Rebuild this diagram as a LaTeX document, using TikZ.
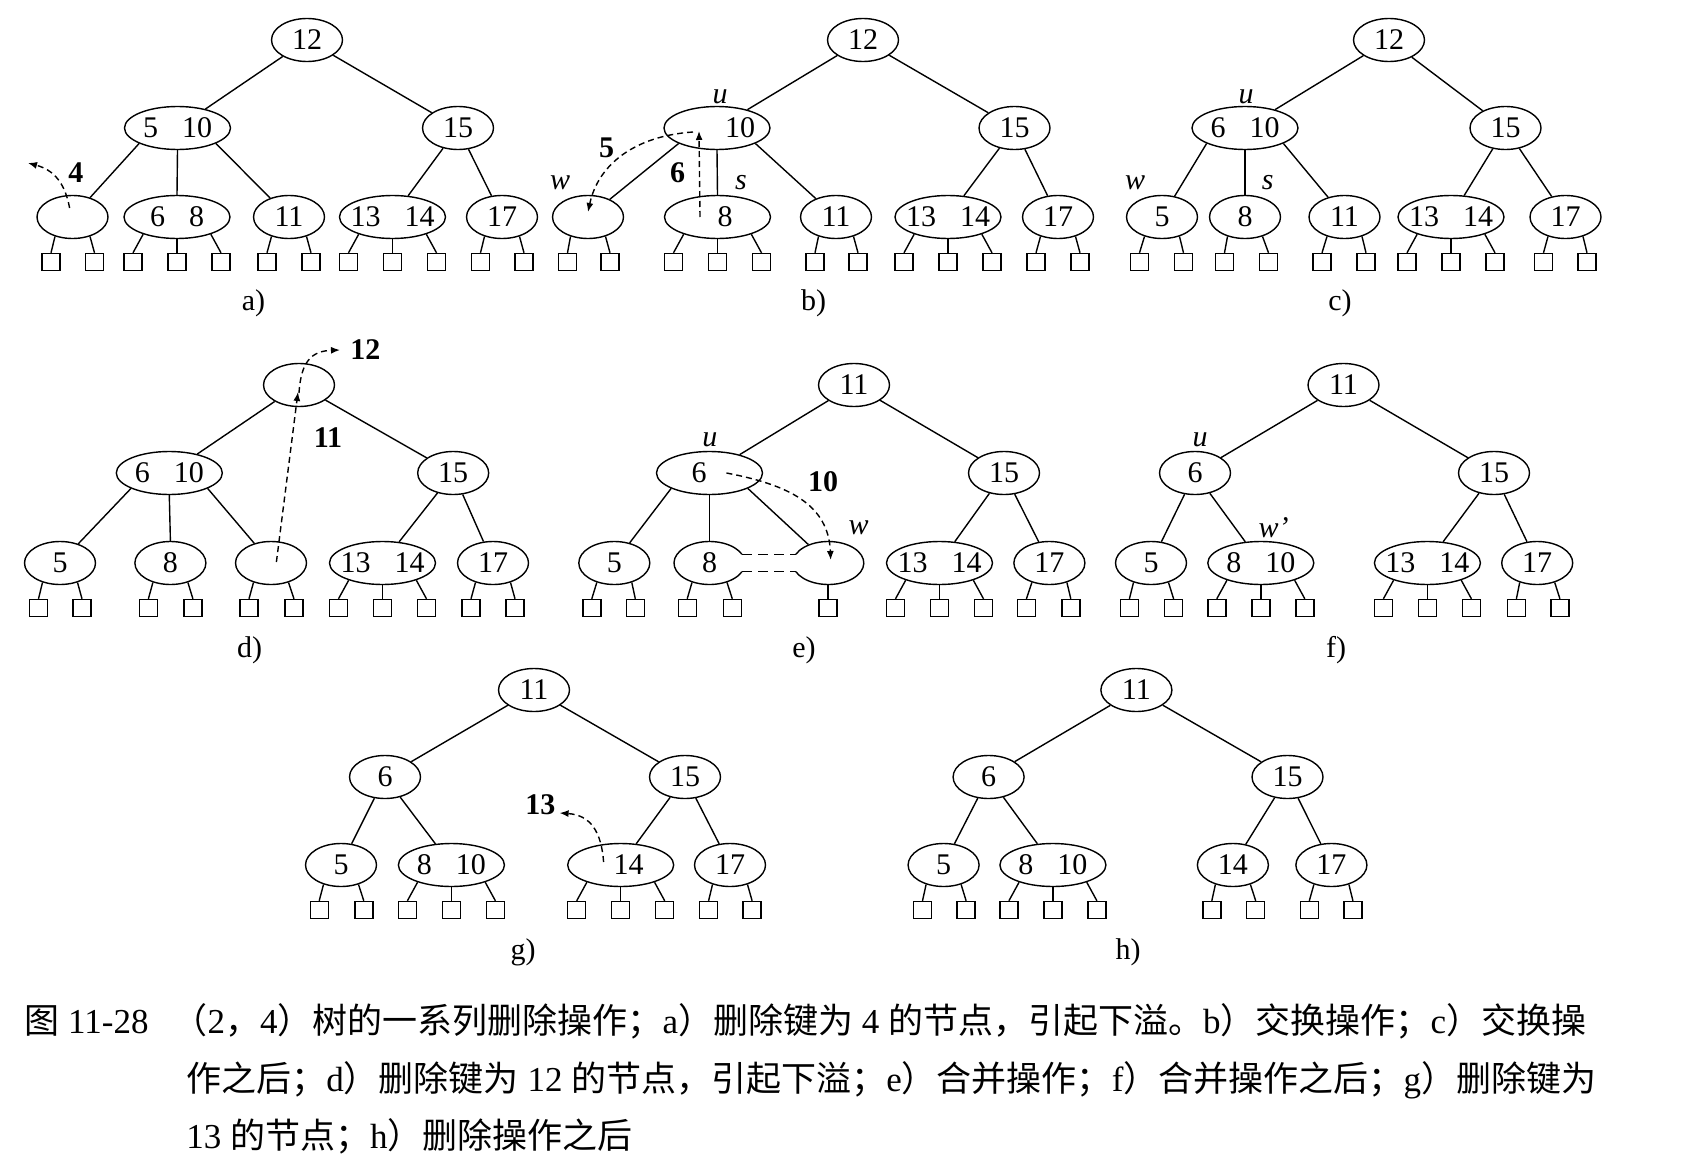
\documentclass[tikz,border=0pt]{standalone}
\usepackage{fontspec}
\setmainfont{Liberation Serif}
\newfontfamily\cjk{Noto Sans CJK SC}
\usetikzlibrary{shapes.geometric,arrows.meta,calc}
\newcommand\KT[2]{\makebox[0pt]{#1\hspace{12pt}#2}}
\newcommand\KO[2]{\makebox[0pt]{\hspace*{#1pt}#2}}
\newcommand\sqtwo[3]{%
  \node[sq] (#1-1) at ($(#1)+(#2,45)$) {};
  \node[sq] (#1-2) at ($(#1)+(#3,45)$) {};
  \draw[tline] (#1.228) -- (#1-1.north);
  \draw[tline] (#1.312) -- (#1-2.north);}
\newcommand\sqthree[1]{%
  \node[sq] (#1-1) at ($(#1)+(-44,45)$) {};
  \node[sq] (#1-2) at ($(#1)+(0,45)$) {};
  \node[sq] (#1-3) at ($(#1)+(44,45)$) {};
  \draw[tline] (#1.207) -- (#1-1.north);
  \draw[tline] (#1.south) -- (#1-2.north);
  \draw[tline] (#1.333) -- (#1-3.north);}
\tikzset{
  every node/.style={font=\fontsize{15}{17}\selectfont},
  kone/.style={ellipse,draw,line width=0.7pt,minimum width=35.5pt,minimum height=21.5pt,inner sep=0pt},
  ktwo/.style={kone,minimum width=53pt},
  ghost/.style={kone,draw=none},
  sq/.style={rectangle,draw,line width=0.7pt,minimum width=9pt,minimum height=8.5pt,inner sep=0pt},
  tline/.style={line width=0.7pt},
  dsh/.style={line width=0.7pt,dash pattern=on 3pt off 2pt},
  arr/.style={dsh,-{Latex[length=4.5pt,width=3.5pt]}},
  mrg/.style={line width=0.7pt,dash pattern=on 5pt off 3pt},
  lab/.style={font=\fontsize{15}{17}\selectfont\itshape,inner sep=0pt},
  blab/.style={font=\fontsize{15}{17}\selectfont\bfseries,inner sep=0pt},
  sublab/.style={inner sep=0pt},
  capline/.style={anchor=west,inner sep=0pt,font=\fontsize{17.5}{20}\selectfont},
}
\begin{document}
\begin{tikzpicture}[x=0.5pt,y=-0.5pt]
\useasboundingbox[fill=white] (0,0) rectangle (1692,1172);
% ---------------- a ----------------
\node[kone] (a0) at (307,40) {12};
\node[ktwo] (a1) at (177.5,128) {\KT{5}{10}};
\node[kone] (a2) at (458,128) {15};
\node[kone] (a3) at (72.5,217) {};
\node[ktwo] (a4) at (177,217) {\KT{6}{8}};
\node[kone] (a5) at (289,217) {11};
\node[ktwo] (a6) at (392.5,217) {\KT{13}{14}};
\node[kone] (a7) at (502,217) {17};
\draw[tline] (a0) -- (a1); \draw[tline] (a0) -- (a2);
\draw[tline] (a1.202) -- (a3); \draw[tline] (a1.south) -- (a4.north); \draw[tline] (a1.338) -- (a5);
\draw[tline] (a2) -- (a6); \draw[tline] (a2) -- (a7);
\sqtwo{a3}{-21.5}{22} \sqthree{a4} \sqtwo{a5}{-22}{22} \sqthree{a6} \sqtwo{a7}{-21.5}{22}
\node[sublab] (acap) at (253.5,303) {a)};
\node[blab] (a-l4) at (76,173) {4};
\coordinate (a-s) at (69.6,208); \coordinate (a-e) at (28,163);
\draw[arr] (a-s) .. controls (65,183) and (54,170) .. (a-e);
% ---------------- b ----------------
\node[kone] (b0) at (863,40) {12};
\node[ktwo] (b1) at (717,128) {\KO{23}{10}};
\node[kone] (b2) at (1014.5,128) {15};
\node[kone] (b3) at (588,217) {};
\node[ktwo] (b4) at (717.5,217) {\KO{7.5}{8}};
\node[kone] (b5) at (836,217) {11};
\node[ktwo] (b6) at (948,217) {\KT{13}{14}};
\node[kone] (b7) at (1058,217) {17};
\draw[tline] (b0) -- (b1); \draw[tline] (b0) -- (b2);
\draw[tline] (b1.202) -- (b3); \draw[tline] (b1.south) -- (b4.north); \draw[tline] (b1.338) -- (b5);
\draw[tline] (b2) -- (b6); \draw[tline] (b2) -- (b7);
\sqtwo{b3}{-20.5}{22} \sqthree{b4} \sqtwo{b5}{-21}{22} \sqthree{b6} \sqtwo{b7}{-22}{22}
\node[sublab] (bcap) at (813.7,303) {b)};
\node[lab] (b-u) at (720,97) {u};
\node[lab] (b-w) at (560,183) {w};
\node[lab] (b-sl) at (741,183) {s};
\node[blab] (b-l5) at (606.6,148) {5};
\node[blab] (b-l6) at (677.6,173) {6};
\coordinate (b-s5) at (693,132); \coordinate (b-e5) at (588,212);
\draw[arr] (b-s5) .. controls (634,136) and (598,165) .. (b-e5);
\coordinate (b-s6) at (700,217); \coordinate (b-e6) at (699,131);
\draw[arr] (b-s6) -- (b-e6);
% ---------------- c ----------------
\node[kone] (c0) at (1389,40) {12};
\node[ktwo] (c1) at (1245,128) {\KT{6}{10}};
\node[kone] (c2) at (1505.5,128) {15};
\node[kone] (c3) at (1162,217) {5};
\node[kone] (c4) at (1245,217) {8};
\node[kone] (c5) at (1344.5,217) {11};
\node[ktwo] (c6) at (1451,217) {\KT{13}{14}};
\node[kone] (c7) at (1565.5,217) {17};
\draw[tline] (c0) -- (c1); \draw[tline] (c0) -- (c2);
\draw[tline] (c1.202) -- (c3); \draw[tline] (c1.south) -- (c4.north); \draw[tline] (c1.338) -- (c5);
\draw[tline] (c2) -- (c6); \draw[tline] (c2) -- (c7);
\sqtwo{c3}{-22.5}{21.5} \sqtwo{c4}{-20.5}{23.5} \sqtwo{c5}{-22.5}{21.5} \sqthree{c6} \sqtwo{c7}{-22}{21.5}
\node[sublab] (ccap) at (1340,303) {c)};
\node[lab] (c-u) at (1246,97) {u};
\node[lab] (c-w) at (1135,183) {w};
\node[lab] (c-sl) at (1267.6,183) {s};
% ---------------- d ----------------
\node[kone] (d0) at (299,385) {};
\node[ktwo] (d1) at (169.3,473) {\KT{6}{10}};
\node[kone] (d2) at (453.2,473) {15};
\node[kone] (d3) at (60,563) {5};
\node[kone] (d4) at (170.4,563) {8};
\node[kone] (d5) at (271,563) {};
\node[ktwo] (d6) at (382.5,563) {\KT{13}{14}};
\node[kone] (d7) at (493,563) {17};
\draw[tline] (d0) -- (d1); \draw[tline] (d0) -- (d2);
\draw[tline] (d1.202) -- (d3); \draw[tline] (d1.south) -- (d4.north); \draw[tline] (d1.338) -- (d5);
\draw[tline] (d2) -- (d6); \draw[tline] (d2) -- (d7);
\sqtwo{d3}{-21.5}{22} \sqtwo{d4}{-22}{22.5} \sqtwo{d5}{-22}{23} \sqthree{d6} \sqtwo{d7}{-22}{22}
\node[sublab] (dcap) at (249.6,650) {d)};
\node[blab] (d-l12) at (365.4,350) {12};
\node[blab] (d-l11) at (328,438) {11};
\coordinate (d-s1) at (276.4,562); \coordinate (d-e1) at (298,392);
\draw[arr] (d-s1) -- (d-e1);
\coordinate (d-s2) at (299,393); \coordinate (d-e2) at (340,350);
\draw[arr] (d-s2) .. controls (301,362) and (311,351) .. (d-e2);
% ---------------- e ----------------
\node[kone] (e0) at (854,385) {11};
\node[ktwo] (e1) at (709.5,473) {\KO{-10.5}{6}};
\node[kone] (e2) at (1004,473) {15};
\node[kone] (e3) at (614.3,563) {5};
\node[ghost] (e4) at (709.5,563) {8};
\node[ghost] (e5) at (828.3,563) {};
\node[ktwo] (e6) at (939.5,563) {\KT{13}{14}};
\node[kone] (e7) at (1049.4,563) {17};
\draw[tline] (e4.center) ++(24:35.5 and 21.5) arc[start angle=24,end angle=336,x radius=35.5,y radius=21.5];
\draw[tline] (e5.center) ++(-156:35.5 and 21.5) arc[start angle=-156,end angle=156,x radius=35.5,y radius=21.5];
\coordinate (e-m1a) at (742,554.3); \coordinate (e-m1b) at (796,554.3);
\coordinate (e-m2a) at (742,571.7); \coordinate (e-m2b) at (796,571.7);
\draw[mrg] (e-m1a) -- (e-m1b); \draw[mrg] (e-m2a) -- (e-m2b);
\draw[tline] (e0) -- (e1); \draw[tline] (e0) -- (e2);
\draw[tline] (e1.202) -- (e3); \draw[tline] (e1.south) -- (e4.north); \draw[tline] (e1.338) -- (e5);
\draw[tline] (e2) -- (e6); \draw[tline] (e2) -- (e7);
\sqtwo{e3}{-22.5}{21} \sqtwo{e4}{-22.3}{22.8}
\node[sq] (e5-1) at ($(e5)+(-0.5,45)$) {};
\draw[tline] (e5-1.north |- e5.south) -- (e5-1.north);
\sqthree{e6} \sqtwo{e7}{-23}{21.4}
\node[sublab] (ecap) at (804,650) {e)};
\node[lab] (e-u) at (709.8,440) {u};
\node[lab] (e-w) at (858.5,528) {w};
\node[blab] (e-l10) at (823,482) {10};
\coordinate (e-s) at (726.4,473); \coordinate (e-e) at (830.7,560);
\draw[arr] (e-s) .. controls (789.7,485) and (828.5,505) .. (e-e);
% ---------------- f ----------------
\node[kone] (f0) at (1343.5,385) {11};
\node[kone] (f1) at (1195,473) {6};
\node[kone] (f2) at (1494,473) {15};
\node[kone] (f3) at (1151,563) {5};
\node[ktwo] (f4) at (1260.8,563) {\KT{8}{10}};
\node[ktwo] (f5) at (1427.4,563) {\KT{13}{14}};
\node[kone] (f6) at (1537.2,563) {17};
\draw[tline] (f0) -- (f1); \draw[tline] (f0) -- (f2);
\draw[tline] (f1) -- (f3); \draw[tline] (f1) -- (f4);
\draw[tline] (f2) -- (f5); \draw[tline] (f2) -- (f6);
\sqtwo{f3}{-21.6}{22.6} \sqthree{f4} \sqthree{f5} \sqtwo{f6}{-20.8}{22.7}
\node[sublab] (fcap) at (1336,650) {f)};
\node[lab] (f-u) at (1200,440) {u};
\node[lab] (f-w) at (1273.7,528) {w'};
% ---------------- g ----------------
\node[kone] (g0) at (534,690) {11};
\node[kone] (g1) at (385,777) {6};
\node[kone] (g2) at (685,777) {15};
\node[kone] (g3) at (341,865) {5};
\node[ktwo] (g4) at (451.4,865) {\KT{8}{10}};
\node[ktwo] (g5) at (620.7,865) {\KO{8}{14}};
\node[kone] (g6) at (730,865) {17};
\draw[tline] (g0) -- (g1); \draw[tline] (g0) -- (g2);
\draw[tline] (g1) -- (g3); \draw[tline] (g1) -- (g4);
\draw[tline] (g2) -- (g5); \draw[tline] (g2) -- (g6);
\sqtwo{g3}{-21.8}{22.8} \sqthree{g4} \sqthree{g5} \sqtwo{g6}{-21.4}{22.1}
\node[sublab] (gcap) at (523.2,952) {g)};
\node[blab] (g-l13) at (540.4,805) {13};
\coordinate (g-s) at (603.6,862); \coordinate (g-e) at (559.6,813);
\draw[arr] (g-s) .. controls (601.4,832) and (590.7,815) .. (g-e);
% ---------------- h ----------------
\node[kone] (h0) at (1136.4,690) {11};
\node[kone] (h1) at (988.6,777) {6};
\node[kone] (h2) at (1287.5,777) {15};
\node[kone] (h3) at (943.6,865) {5};
\node[ktwo] (h4) at (1052.9,865) {\KT{8}{10}};
\node[kone] (h5) at (1232.9,865) {14};
\node[kone] (h6) at (1331.4,865) {17};
\draw[tline] (h0) -- (h1); \draw[tline] (h0) -- (h2);
\draw[tline] (h1) -- (h3); \draw[tline] (h1) -- (h4);
\draw[tline] (h2) -- (h5); \draw[tline] (h2) -- (h6);
\sqtwo{h3}{-21.1}{22.5} \sqthree{h4} \sqtwo{h5}{-21.1}{22.8} \sqtwo{h6}{-22.1}{21.5}
\node[sublab] (hcap) at (1128,952) {h)};
% ---------------- caption ----------------
\node[capline] (cap1) at (24,1021) {{\cjk 图} 11-28\hspace{12pt}{\cjk （}2{\cjk ，}4{\cjk ）树的一系列删除操作；}a{\cjk ）删除键为} 4 {\cjk 的节点，引起下溢。}b{\cjk ）交换操作；}c{\cjk ）交换操}};
\node[capline] (cap2) at (186,1080) {{\cjk 作之后；}d{\cjk ）删除键为} 12 {\cjk 的节点，引起下溢；}e{\cjk ）合并操作；}f{\cjk ）合并操作之后；}g{\cjk ）删除键为}};
\node[capline] (cap3) at (186,1136) {13 {\cjk 的节点；}h{\cjk ）删除操作之后}};
\end{tikzpicture}
\end{document}
